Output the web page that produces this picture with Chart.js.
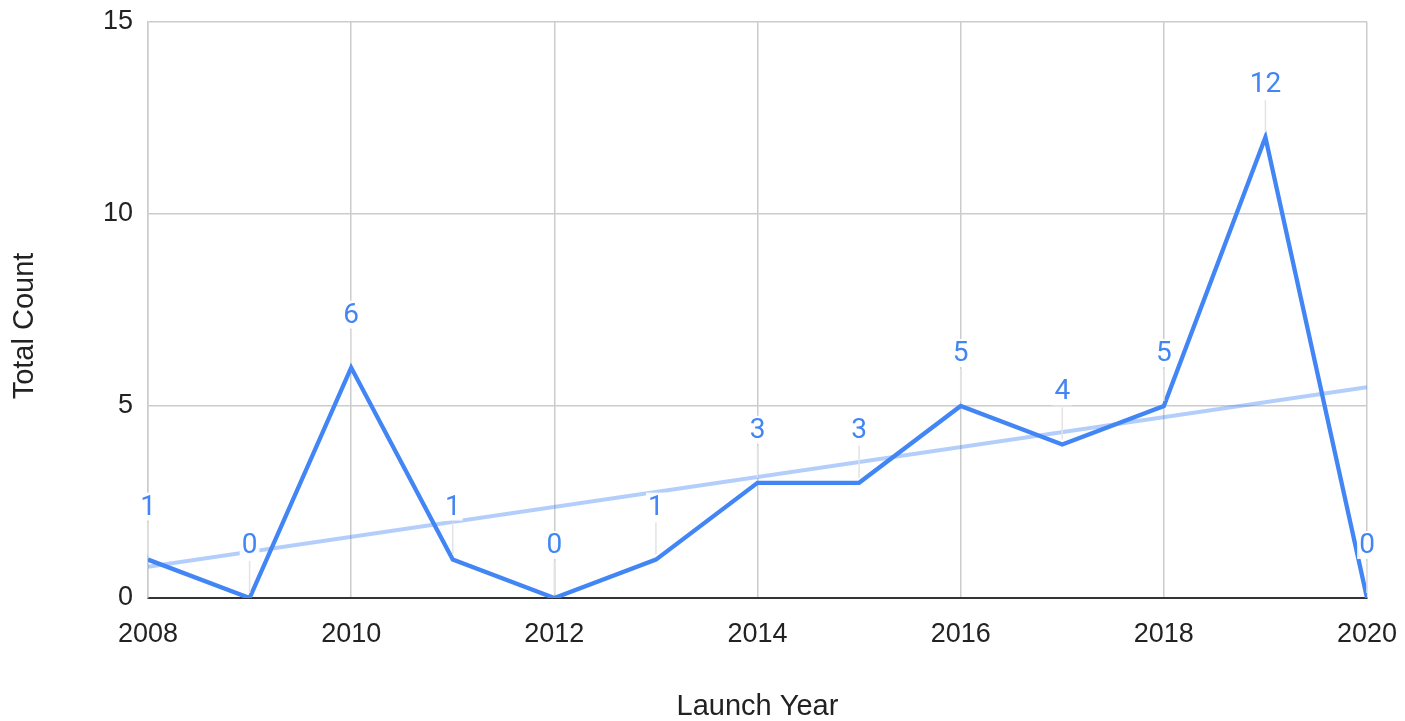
<!DOCTYPE html>
<html>
<head>
<meta charset="utf-8">
<script src="https://cdn.jsdelivr.net/npm/chart.js@4/dist/chart.umd.min.js"></script>
<style>
html,body{margin:0;padding:0;background:#fff;overflow:hidden;}
#wrap{width:1405px;height:721px;}
</style>
</head>
<body>
<div id="wrap"><canvas id="c" width="1405" height="721"></canvas></div>
<script>
const years = [2008, 2009, 2010, 2011, 2012, 2013, 2014, 2015, 2016, 2017, 2018, 2019, 2020];
const counts = [1, 0, 6, 1, 0, 1, 3, 3, 5, 4, 5, 12, 0];
const trendYears = [2008, 2020];
const trendValues = [0.81, 5.49];
const xTicks = [2008, 2010, 2012, 2014, 2016, 2018, 2020];
const yTicks = [0, 5, 10, 15];
const xTitle = 'Launch Year';
const yTitle = 'Total Count';

const lineColor = '#4285f4';
const tickFont = {family: '"Liberation Sans", Arial, sans-serif', size: 27};
const titleFont = {family: '"Liberation Sans", Arial, sans-serif', size: 29};

const labelPlugin = {
  id: 'pointLabels',
  afterDatasetsDraw(chart) {
    const ctx = chart.ctx;
    const meta = chart.getDatasetMeta(1);
    ctx.save();
    ctx.font = '28px Roboto, "Liberation Sans", sans-serif';
    ctx.textAlign = 'center';
    ctx.textBaseline = 'middle';
    meta.data.forEach((pt, i) => {
      const txt = String(counts[i]);
      const ly = pt.y - 53;
      ctx.strokeStyle = '#e3e3e3';
      ctx.lineWidth = 1.5;
      ctx.beginPath();
      ctx.moveTo(pt.x, pt.y - 5);
      ctx.lineTo(pt.x, ly + 16);
      ctx.stroke();
      const w = ctx.measureText(txt).width;
      ctx.fillStyle = 'rgba(255,255,255,0.9)';
      ctx.fillRect(pt.x - w / 2 - 2, ly - 14, w + 4, 28);
      ctx.fillStyle = lineColor;
      ctx.fillText(txt, pt.x, ly + 1);
    });
    ctx.restore();
  }
};

const yTitlePlugin = {
  id: 'yTitle',
  afterDraw(chart) {
    const ctx = chart.ctx;
    ctx.save();
    ctx.font = titleFont.size + 'px ' + titleFont.family;
    ctx.fillStyle = '#222';
    ctx.textAlign = 'center';
    ctx.textBaseline = 'middle';
    ctx.translate(25, 326);
    ctx.rotate(-Math.PI / 2);
    ctx.fillText(yTitle, 0, 0);
    ctx.restore();
  }
};

new Chart(document.getElementById('c'), {
  type: 'line',
  data: {
    datasets: [
      {
        label: 'Trend',
        data: trendYears.map((x, i) => ({x: x, y: trendValues[i]})),
        borderColor: 'rgba(66,133,244,0.4)',
        borderWidth: 4,
        pointRadius: 0,
        fill: false,
        order: 2
      },
      {
        label: 'Total Count',
        data: years.map((x, i) => ({x: x, y: counts[i]})),
        borderColor: lineColor,
        borderWidth: 4.3,
        pointRadius: 0,
        tension: 0,
        fill: false,
        order: 1
      }
    ]
  },
  options: {
    responsive: false,
    animation: false,
    devicePixelRatio: 1,
    layout: {padding: {left: 0, right: 38, top: 22, bottom: 0}},
    plugins: {legend: {display: false}, tooltip: {enabled: false}},
    scales: {
      x: {
        type: 'linear',
        min: 2008,
        max: 2020,
        afterBuildTicks(scale) { scale.ticks = xTicks.map(v => ({value: v})); },
        afterFit(scale) { scale.height = 123; scale.paddingLeft = 0; scale.paddingRight = 0; },
        ticks: {font: tickFont, color: '#222', padding: 20, maxRotation: 0, callback: v => String(v)},
        grid: {color: '#cccccc', lineWidth: 1.5, drawTicks: false},
        border: {display: true, color: '#333333', width: 2},
        title: {display: true, text: xTitle, font: titleFont, color: '#222', padding: {top: 0, bottom: -3}}
      },
      y: {
        type: 'linear',
        min: 0,
        max: 15,
        afterBuildTicks(scale) { scale.ticks = yTicks.map(v => ({value: v})); },
        afterFit(scale) { scale.width = 148; scale.paddingTop = 0; scale.paddingBottom = 0; },
        ticks: {font: tickFont, color: '#222', padding: 15},
        grid: {color: '#cccccc', lineWidth: 1.5, drawTicks: false},
        border: {display: true, color: '#cccccc', width: 1.5},
        title: {display: false}
      }
    }
  },
  plugins: [labelPlugin, yTitlePlugin]
});
</script>
</body>
</html>
